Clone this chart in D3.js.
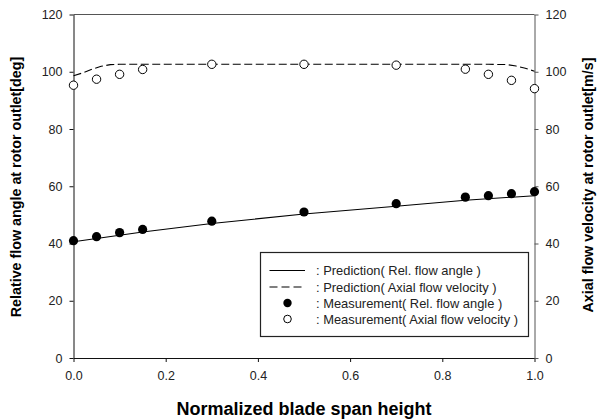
<!DOCTYPE html>
<html>
<head>
<meta charset="utf-8">
<script src="https://cdnjs.cloudflare.com/ajax/libs/d3/7.8.5/d3.min.js"></script>
<style>
  html, body { margin: 0; padding: 0; background: #fff; }
  svg { display: block; font-family: "Liberation Sans", Arial, sans-serif; }
</style>
</head>
<body>
<script>
// measured points
var span = [0, 0.05, 0.1, 0.15, 0.3, 0.5, 0.7, 0.85, 0.9, 0.95, 1.0];
var measAngle = [41.0, 42.4, 43.8, 44.9, 47.8, 51.0, 53.9, 56.2, 56.7, 57.4, 58.1];
var measVel = [95.3, 97.4, 99.1, 100.8, 102.6, 102.6, 102.3, 100.9, 99.1, 97.0, 94.1];

// prediction curves
var predAngleSpan = [0, 0.15, 0.3, 0.5, 0.7, 0.85, 1.0];
var predAngle = [40.6, 44.0, 47.0, 50.3, 53.0, 55.1, 56.7];
var predVelSpan = [0, 0.02, 0.04, 0.06, 0.08, 0.1, 0.5, 0.9, 0.94, 0.96, 0.98, 1.0];
var predVel = [98.6, 99.6, 100.9, 101.9, 102.5, 102.6, 102.6, 102.6, 102.5, 102.0, 101.2, 100.2];

var xTicks = [0, 0.2, 0.4, 0.6, 0.8, 1.0];
var yTicks = [0, 20, 40, 60, 80, 100, 120];

var legendLabels = [
	": Prediction( Rel. flow angle )",
	": Prediction( Axial flow velocity )",
	": Measurement( Rel. flow angle )",
	": Measurement( Axial flow velocity )"
];

var W = 597, H = 420,
	m = { left: 73.5, top: 14.5, right: 62.5, bottom: 62 },
	pw = W - m.left - m.right,
	ph = H - m.top - m.bottom;

var svg = d3.select("body").append("svg")
	.attr("width", W)
	.attr("height", H);

var g = svg.append("g").attr("transform", "translate(" + m.left + "," + m.top + ")");

var x = d3.scaleLinear().domain([0, 1]).range([0, pw]);
var y = d3.scaleLinear().domain([0, 120]).range([ph, 0]);

// frame top
g.append("line").attr("x1", 0).attr("x2", pw).attr("y1", 0).attr("y2", 0)
	.attr("stroke", "#555").attr("stroke-width", 1);

function styleAxis(sel, col) {
	sel.select(".domain").attr("stroke", col);
	sel.selectAll(".tick line").attr("stroke", col);
	sel.selectAll(".tick text")
		.attr("fill", "#222")
		.style("font-size", "12.5px")
		.style("font-family", "Liberation Sans, Arial, sans-serif");
}

var xAxis = g.append("g").attr("transform", "translate(0," + ph + ")")
	.call(d3.axisBottom(x).tickValues(xTicks).tickFormat(d3.format(".1f")).tickSize(4).tickSizeOuter(0).tickPadding(9));
styleAxis(xAxis, "#111");

var yAxis = g.append("g")
	.call(d3.axisLeft(y).tickValues(yTicks).tickSize(4).tickSizeOuter(0).tickPadding(7));
styleAxis(yAxis, "#111");

var yAxisR = g.append("g").attr("transform", "translate(" + pw + ",0)")
	.call(d3.axisRight(y).tickValues(yTicks).tickSize(4).tickSizeOuter(0).tickPadding(7));
styleAxis(yAxisR, "#555");

// prediction lines
var lineA = d3.line()
	.x(function(d, i) { return x(predAngleSpan[i]); })
	.y(function(d) { return y(d); });
var lineV = d3.line()
	.x(function(d, i) { return x(predVelSpan[i]); })
	.y(function(d) { return y(d); });

g.append("path").datum(predAngle)
	.attr("d", lineA)
	.attr("fill", "none").attr("stroke", "#000").attr("stroke-width", 1.1);

g.append("path").datum(predVel)
	.attr("d", lineV)
	.attr("fill", "none").attr("stroke", "#000").attr("stroke-width", 1.1)
	.attr("stroke-dasharray", "8,3.5");

// measurements
g.selectAll("circle.ang").data(measAngle).enter()
	.append("circle").attr("class", "ang")
	.attr("cx", function(d, i) { return x(span[i]); })
	.attr("cy", function(d) { return y(d); })
	.attr("r", 4.6)
	.attr("fill", "#000");

g.selectAll("circle.vel").data(measVel).enter()
	.append("circle").attr("class", "vel")
	.attr("cx", function(d, i) { return x(span[i]); })
	.attr("cy", function(d) { return y(d); })
	.attr("r", 4.2)
	.attr("fill", "#fff").attr("stroke", "#000").attr("stroke-width", 1);

// legend
var lg = svg.append("g").attr("transform", "translate(260.5,252.5)");
lg.append("rect").attr("width", 268).attr("height", 84)
	.attr("fill", "#fff").attr("stroke", "#222").attr("stroke-width", 1.2);

var rowY = [18, 34.5, 50.5, 66.5];
lg.selectAll("text").data(legendLabels).enter()
	.append("text")
	.attr("x", 55.5)
	.attr("y", function(d, i) { return rowY[i]; })
	.attr("dy", "0.36em")
	.attr("fill", "#222")
	.style("font-size", "12.9px")
	.text(function(d) { return d; });

lg.append("line").attr("x1", 9).attr("x2", 44.5).attr("y1", rowY[0]).attr("y2", rowY[0])
	.attr("stroke", "#000").attr("stroke-width", 1.1);
lg.append("line").attr("x1", 9).attr("x2", 44.5).attr("y1", rowY[1]).attr("y2", rowY[1])
	.attr("stroke", "#000").attr("stroke-width", 1.1).attr("stroke-dasharray", "8,4");
lg.append("circle").attr("cx", 27).attr("cy", rowY[2]).attr("r", 4.2).attr("fill", "#000");
lg.append("circle").attr("cx", 27).attr("cy", rowY[3]).attr("r", 3.8)
	.attr("fill", "#fff").attr("stroke", "#000").attr("stroke-width", 1);

// axis titles
svg.append("text")
	.attr("x", m.left + pw / 2).attr("y", 415)
	.attr("text-anchor", "middle")
	.style("font-size", "18px").style("font-weight", "bold")
	.text("Normalized blade span height");

svg.append("text")
	.attr("transform", "translate(21," + 187 + ") rotate(-90)")
	.attr("text-anchor", "middle")
	.style("font-size", "14.3px").style("font-weight", "bold")
	.text("Relative flow angle at rotor outlet[deg]");

svg.append("text")
	.attr("transform", "translate(593," + 185 + ") rotate(-90)")
	.attr("text-anchor", "middle")
	.style("font-size", "14.3px").style("font-weight", "bold")
	.text("Axial flow velocity at rotor outlet[m/s]");
</script>
</body>
</html>
